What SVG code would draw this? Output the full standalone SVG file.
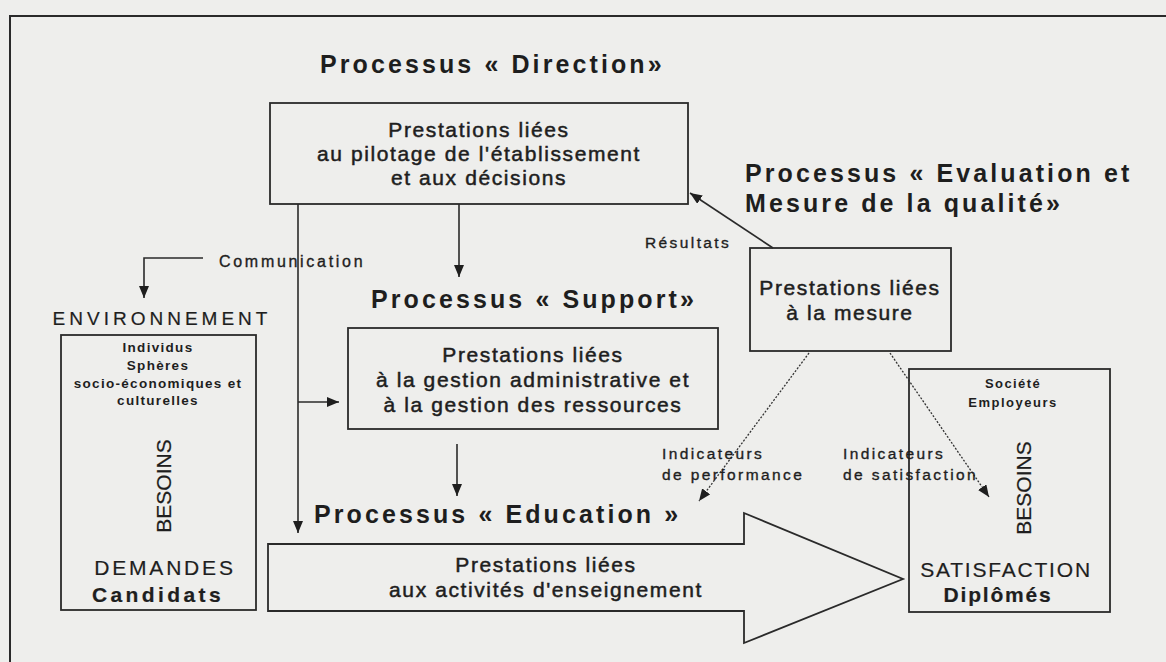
<svg xmlns="http://www.w3.org/2000/svg" width="1166" height="662" viewBox="0 0 1166 662">
<defs>
<style>
text{font-family:"Liberation Sans",Arial,sans-serif;fill:#1e1e1e}
.title{font-size:25px;font-weight:bold;letter-spacing:3.1px}
.body{font-size:21px;letter-spacing:1.6px;stroke:#1e1e1e;stroke-width:0.5px;text-anchor:middle}
.small{font-size:13.5px;font-weight:bold;letter-spacing:1.3px;text-anchor:middle}
.lab{font-size:15.5px;letter-spacing:2.4px;stroke:#1e1e1e;stroke-width:0.35px}
.big{font-size:21px;text-anchor:middle;stroke:#1e1e1e;stroke-width:0.2px}
.box{fill:none;stroke:#2a2a2a;stroke-width:1.8}
.line{fill:none;stroke:#2a2a2a;stroke-width:1.6}
.dot{fill:none;stroke:#333;stroke-width:1.3;stroke-dasharray:2 1.6}
</style>
<marker id="ah" markerUnits="userSpaceOnUse" markerWidth="12" markerHeight="10" refX="12" refY="5" orient="auto">
<path d="M0,0 L12,5 L0,10 z" fill="#1e1e1e"/>
</marker>
</defs>
<rect x="0" y="0" width="1166" height="662" fill="#eeeeec"/>
<rect id="frame" x="10" y="16" width="1200" height="700" fill="none" stroke="#2a2a2a" stroke-width="2"/>

<g id="direction">
<text class="title" x="320" y="73">Processus « Direction»</text>
<rect class="box" x="270" y="103" width="418" height="101"/>
<text class="body" x="479" y="137">Prestations liées</text>
<text class="body" x="479" y="161">au pilotage de l'établissement</text>
<text class="body" x="479" y="185">et aux décisions</text>
</g>

<g id="evaluation">
<text class="title" x="745" y="182">Processus « Evaluation et</text>
<text class="title" x="745" y="212">Mesure de la qualité»</text>
<rect class="box" x="750" y="248" width="201" height="103"/>
<text class="body" x="850" y="295">Prestations liées</text>
<text class="body" x="850" y="320">à la mesure</text>
</g>

<g id="support">
<text class="title" x="371" y="308">Processus « Support»</text>
<rect class="box" x="348" y="328" width="370" height="101"/>
<text class="body" x="533" y="362">Prestations liées</text>
<text class="body" x="533" y="387">à la gestion administrative et</text>
<text class="body" x="533" y="412">à la gestion des ressources</text>
</g>

<g id="education">
<text class="title" x="314" y="523">Processus « Education »</text>
<path class="box" d="M268,544 L744,544 L744,513 L903,579 L744,643 L744,611 L268,611 Z"/>
<text class="body" x="546" y="572">Prestations liées</text>
<text class="body" x="546" y="597">aux activités d'enseignement</text>
</g>

<g id="environnement">
<text class="big" x="162" y="325" style="font-size:19px;letter-spacing:4px">ENVIRONNEMENT</text>
<rect class="box" x="61" y="335" width="195" height="275"/>
<text class="small" x="158" y="352">Individus</text>
<text class="small" x="158" y="370">Sphères</text>
<text class="small" x="158" y="388">socio-économiques et</text>
<text class="small" x="158" y="405">culturelles</text>
<text class="big" transform="translate(171,486) rotate(-90)" x="0" y="0">BESOINS</text>
<text class="big" x="165" y="575" style="letter-spacing:2.8px">DEMANDES</text>
<text class="big" x="158" y="602" style="font-weight:bold;letter-spacing:3.4px">Candidats</text>
</g>

<g id="satisfaction">
<rect class="box" x="909" y="369" width="201" height="243"/>
<text class="small" x="1013" y="388" style="font-size:13px;letter-spacing:1.4px">Société</text>
<text class="small" x="1013" y="407" style="font-size:13px;letter-spacing:1.5px">Employeurs</text>
<text class="big" transform="translate(1031,488) rotate(-90)" x="0" y="0">BESOINS</text>
<text class="big" x="1006" y="577" style="letter-spacing:1.8px">SATISFACTION</text>
<text class="big" x="998" y="602" style="font-weight:bold;letter-spacing:1.8px">Diplômés</text>
</g>

<g id="connectors">
<line class="line" x1="459" y1="204" x2="459" y2="277" marker-end="url(#ah)"/>
<line class="line" x1="457" y1="444" x2="457" y2="496" marker-end="url(#ah)"/>
<line class="line" x1="298" y1="204" x2="298" y2="533" marker-end="url(#ah)"/>
<line class="line" x1="298" y1="402" x2="339" y2="402" marker-end="url(#ah)"/>
<polyline class="line" points="203,258 144,258 144,298" marker-end="url(#ah)"/>
<text class="lab" x="219" y="267" style="font-size:16px;letter-spacing:2.7px">Communication</text>
<line class="line" x1="773" y1="248" x2="690" y2="193" marker-end="url(#ah)"/>
<text class="lab" x="645" y="248">Résultats</text>
<line class="dot" x1="809" y1="353" x2="699" y2="501" marker-end="url(#ah)"/>
<line class="dot" x1="890" y1="353" x2="989" y2="497" marker-end="url(#ah)"/>
<text class="lab" x="662" y="459">Indicateurs</text>
<text class="lab" x="662" y="480">de performance</text>
<text class="lab" x="843" y="459">Indicateurs</text>
<text class="lab" x="843" y="480">de satisfaction</text>
</g>
</svg>
